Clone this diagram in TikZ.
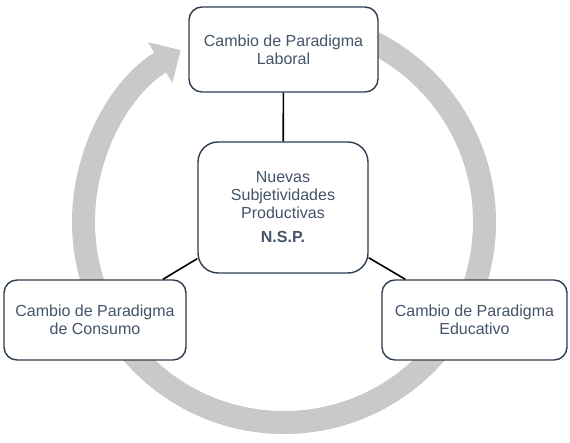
\documentclass[tikz,border=0pt]{standalone}
\usepackage{fontspec}
\setmainfont{Liberation Sans}
\usepackage{tikz}
\usetikzlibrary{arrows.meta}
\definecolor{ringgray}{HTML}{C9C9C9}
\definecolor{boxtext}{HTML}{44546A}
\definecolor{boxline}{HTML}{2F3D50}

\begin{document}
\begin{tikzpicture}[%
            x=1pt, y=1pt,
            font=\fontsize{16}{18}\selectfont,
            paradigm/.style={
                draw=boxline,
                line width=1.4pt,
                fill=white,
                text=boxtext,
                align=center,
                rounded corners=13pt,
                inner sep=0pt,
            },
            ring/.style={
                draw=ringgray,
                line width=23pt,
            },
            link/.style={
                draw=black,
                line width=1.6pt,
            },
        ]
        \useasboundingbox (0,0) rectangle (570,442);
        \coordinate (c) at (284,220);
        \draw[ring, -{Triangle[width=46pt,length=24pt]}]
            ([shift={(90:200.5pt)}]c) arc[start angle=90, end angle=-239, radius=200.5pt];

        \node[paradigm, minimum width=189pt, minimum height=85pt] (laboral) at (283.5,392.5)
            {Cambio de Paradigma\\Laboral};
        \node[paradigm, minimum width=170pt, minimum height=131pt, rounded corners=20pt] (nsp) at (283,234.5)
            {Nuevas\\Subjetividades\\Productivas\\[6pt]\textbf{N.S.P.}};
        \node[paradigm, minimum width=182pt, minimum height=80pt] (consumo) at (95,122)
            {Cambio de Paradigma\\de Consumo};
        \node[paradigm, minimum width=185pt, minimum height=80pt] (educativo) at (474.5,122)
            {Cambio de Paradigma\\Educativo};

        \draw[link] (laboral) -- (nsp);
        \draw[link] (nsp) -- (consumo);
        \draw[link] (nsp) -- (educativo);
    \end{tikzpicture}
\end{document}
